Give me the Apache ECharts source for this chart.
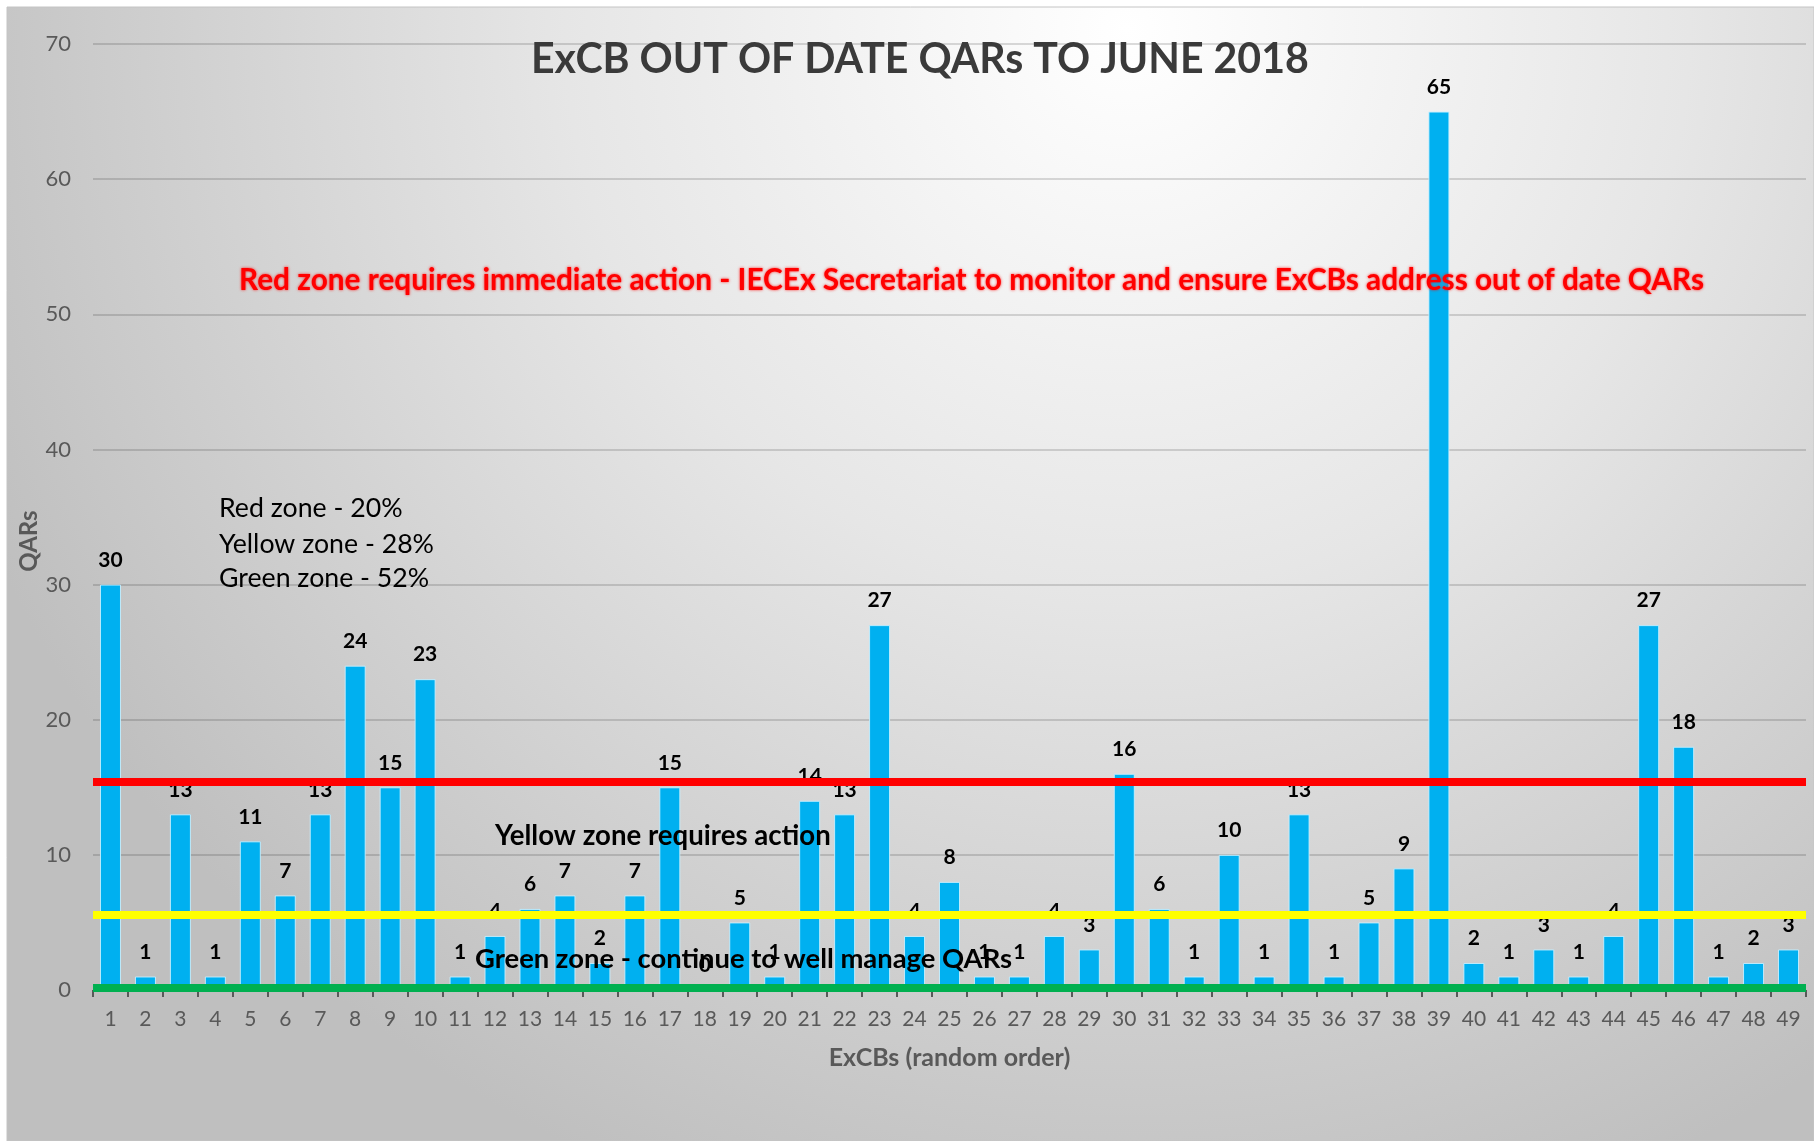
<!DOCTYPE html>
<html><head><meta charset="utf-8">
<script src="https://cdn.jsdelivr.net/npm/echarts@6/dist/echarts.min.js"></script>
<style>html,body{margin:0;padding:0;background:#fff;}#c{width:1814px;height:1141px;}</style>
</head><body><div id="c"></div>
<script>
// ---- data ----
const categories = ['1','2','3','4','5','6','7','8','9','10','11','12','13','14','15','16','17','18','19','20','21','22','23','24','25','26','27','28','29','30','31','32','33','34','35','36','37','38','39','40','41','42','43','44','45','46','47','48','49'];
const qars = [30,1,13,1,11,7,13,24,15,23,1,4,6,7,2,7,15,0,5,1,14,13,27,4,8,1,1,4,3,16,6,1,10,1,13,1,5,9,65,2,1,3,1,4,27,18,1,2,3];
const zoneLevels = [15.4, 5.6, 0.15];           // red, yellow, green lines
const zoneNotes = ['Red zone - 20%', 'Yellow zone - 28%', 'Green zone - 52%'];
const yTicks = [0, 10, 20, 30, 40, 50, 60, 70];

const FONT = 'Lato, "Open Sans", sans-serif';
const mctx = document.createElement('canvas').getContext('2d');
function fit(text, weight, target) {
  mctx.font = weight + ' 100px ' + FONT;
  return 100 * target / mctx.measureText(text).width;
}
const titleText = 'ExCB OUT OF DATE QARs TO JUNE 2018';
const redText = 'Red zone requires immediate action - IECEx Secretariat to monitor and ensure ExCBs address out of date QARs';
const yellowText = 'Yellow zone requires action';
const greenText = 'Green zone - continue to well manage QARs';
const titleSize = fit(titleText, 'bold', 778);
const redSize = fit(redText, 'bold', 1467);
const yellowSize = fit(yellowText, 'bold', 336);
const greenSize = fit(greenText, 'bold', 537);
const noteSize = fit(zoneNotes[1], 'normal', 215);

const chart = echarts.init(document.getElementById('c'), null, {renderer: 'canvas'});
const bg = new echarts.graphic.RadialGradient(0.62, 0.02, 1.1, [
  {offset: 0, color: '#ffffff'},
  {offset: 0.45, color: '#e6e6e6'},
  {offset: 1, color: '#bfbfbf'}
]);

const graphics = [
  {type: 'rect', z: -100, silent: true, shape: {x: 7, y: 7, width: 1807, height: 1134},
   style: {fill: bg, stroke: '#c4c4c4', lineWidth: 1}},
  {type: 'text', z: 100, x: 239, y: 280, style: {text: redText, fill: '#ff0000',
    font: 'bold ' + redSize.toFixed(1) + 'px ' + FONT, textAlign: 'left', verticalAlign: 'middle', textVerticalAlign: 'middle',
    shadowColor: 'rgba(255,0,0,0.8)', shadowBlur: 3, textShadowColor: 'rgba(255,0,0,0.8)', textShadowBlur: 3}},
  {type: 'text', z: 100, x: 495, y: 836, style: {text: yellowText, fill: '#000',
    font: 'bold ' + yellowSize.toFixed(1) + 'px ' + FONT, textAlign: 'left', verticalAlign: 'middle', textVerticalAlign: 'middle'}},
  {type: 'text', z: 100, x: 475, y: 959, style: {text: greenText, fill: '#000',
    font: 'bold ' + greenSize.toFixed(1) + 'px ' + FONT, textAlign: 'left', verticalAlign: 'middle', textVerticalAlign: 'middle'}}
];
const noteY = [508, 544, 578];
zoneNotes.forEach((t, i) => graphics.push({type: 'text', z: 100, x: 219, y: noteY[i],
  style: {text: t, fill: '#000', font: noteSize.toFixed(1) + 'px ' + FONT, textAlign: 'left', verticalAlign: 'middle', textVerticalAlign: 'middle'}}));

const zoneColors = ['#ff0000', '#ffff00', '#00b050'];

chart.setOption({
  animation: false,
  backgroundColor: '#ffffff',
  title: {
    text: titleText, left: 526, top: 60 - titleSize * 0.62,
    textStyle: {fontFamily: FONT, fontWeight: 'bold', fontSize: titleSize, color: '#3a3a3a'}
  },
  graphic: graphics,
  grid: {left: 93, right: 8, top: 44, bottom: 151, containLabel: false},
  xAxis: {
    type: 'category', data: categories,
    name: 'ExCBs (random order)', nameLocation: 'middle', nameGap: 55, nameMoveOverlap: false,
    nameTextStyle: {fontFamily: FONT, fontWeight: 'bold', fontSize: 25, color: '#595959'},
    axisLine: {show: true, lineStyle: {color: '#595959', width: 1}},
    axisTick: {show: true, length: 7, lineStyle: {color: '#595959', width: 2}},
    axisLabel: {fontFamily: FONT, fontSize: 21, color: '#595959', margin: 19, interval: 0}
  },
  yAxis: {
    type: 'value', min: yTicks[0], max: yTicks[yTicks.length - 1], interval: yTicks[1] - yTicks[0],
    name: 'QARs', nameLocation: 'middle', nameGap: 52, nameMoveOverlap: false,
    nameTextStyle: {fontFamily: FONT, fontWeight: 'bold', fontSize: 24, color: '#595959', padding: [0, 48, 0, 0]},
    axisLine: {show: false}, axisTick: {show: false},
    axisLabel: {fontFamily: FONT, fontSize: 22, color: '#595959', margin: 22},
    splitLine: {lineStyle: {color: 'rgba(0,0,0,0.14)', width: 2}}
  },
  series: [{
    type: 'bar', data: qars, barWidth: 21,
    itemStyle: {color: '#00b0f0', borderColor: 'rgba(200,240,255,0.9)', borderWidth: 1},
    label: {show: true, position: 'top', distance: 14, fontFamily: FONT, fontWeight: 'bold', fontSize: 21, color: '#000'},
    markLine: {
      silent: true, symbol: 'none', label: {show: false}, animation: false,
      data: zoneLevels.map((v, i) => ({yAxis: v, lineStyle: {color: zoneColors[i], width: 8, type: 'solid'}}))
    }
  }]
});
</script></body></html>
